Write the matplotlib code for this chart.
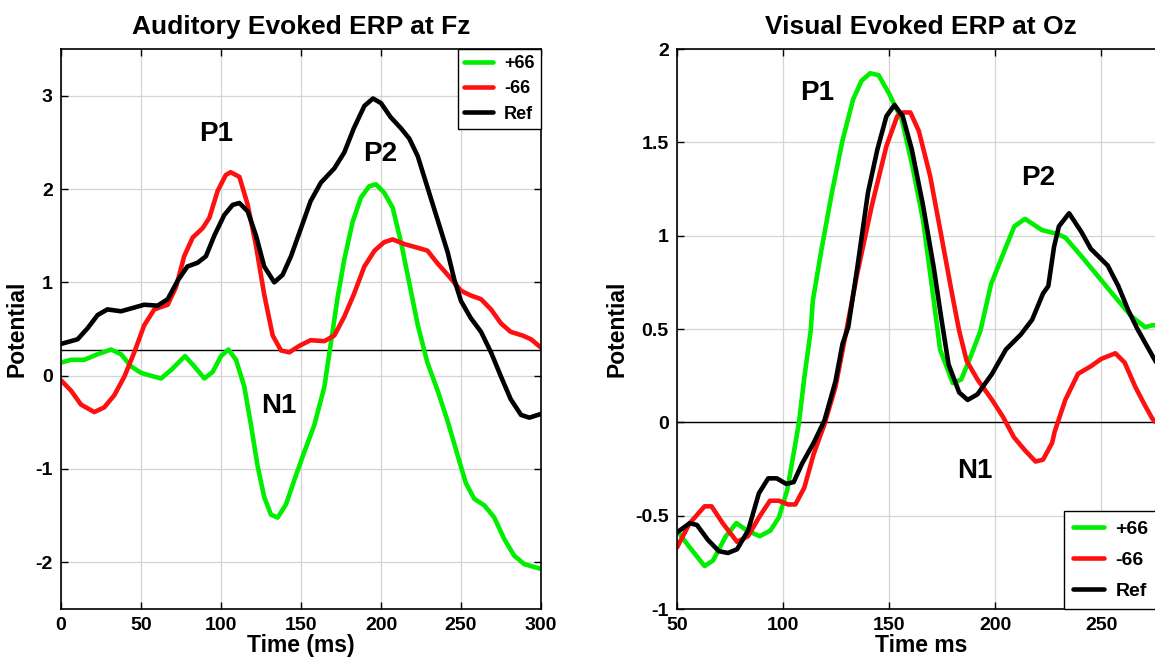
import matplotlib
matplotlib.use("Agg")
import matplotlib.pyplot as plt

plt.rcParams['font.family'] = ['Liberation Sans', 'DejaVu Sans']
plt.rcParams['font.weight'] = 'bold'
plt.rcParams['axes.unicode_minus'] = False

# ---------------- Auditory (left) ----------------
aud_ref_t = [0, 10.4, 16.7, 22.9, 29, 37.5, 45.8, 52, 60.4, 66.7, 73, 79, 85.4, 90.6, 95.8, 102,
             107.3, 111.5, 116.7, 121.9, 127, 133.3, 138.5, 143.75, 150, 156, 162.5, 170.8, 177,
             183, 189.6, 195, 200, 206, 212.5, 217.7, 223, 229, 235, 241.7, 245.8, 250, 256,
             262.5, 268.75, 275, 281, 287.5, 292.7, 300]
aud_ref_v = [0.34, 0.39, 0.51, 0.65, 0.71, 0.69, 0.73, 0.76, 0.75, 0.82, 1.02, 1.17, 1.21, 1.28,
             1.50, 1.72, 1.83, 1.85, 1.76, 1.50, 1.17, 1.00, 1.08, 1.28, 1.58, 1.87, 2.07, 2.22,
             2.39, 2.65, 2.89, 2.97, 2.92, 2.77, 2.65, 2.54, 2.35, 2.02, 1.69, 1.32, 1.03, 0.80,
             0.62, 0.47, 0.25, -0.01, -0.25, -0.42, -0.45, -0.41]

aud_neg_t = [0, 6.25, 12.5, 20.8, 27, 33.3, 39.6, 45.8, 52, 58.3, 66.7, 71.9, 77, 82.3, 88.5,
             92.7, 97.9, 103, 106, 111.5, 116.7, 121.9, 127, 132.3, 137.5, 142.7, 149, 156,
             164.6, 170.8, 177, 183, 189.6, 196, 202, 207.3, 214.6, 223, 229, 235, 242.7, 250,
             256, 262.5, 268.75, 275, 281, 288.5, 293.75, 300]
aud_neg_v = [-0.05, -0.16, -0.31, -0.39, -0.34, -0.21, -0.01, 0.25, 0.54, 0.71, 0.76, 0.95, 1.28,
             1.48, 1.58, 1.69, 1.98, 2.15, 2.18, 2.13, 1.83, 1.39, 0.87, 0.43, 0.27, 0.25, 0.32,
             0.38, 0.37, 0.43, 0.63, 0.87, 1.17, 1.34, 1.43, 1.46, 1.41, 1.37, 1.34, 1.21, 1.06,
             0.91, 0.86, 0.82, 0.71, 0.56, 0.47, 0.43, 0.39, 0.30]

aud_pos_t = [0, 6.25, 14.6, 22.9, 31.25, 37.5, 43.75, 50, 56, 62.5, 68.75, 77.5, 83.3, 89.6,
             94.8, 100, 104.6, 109.4, 114.6, 118.75, 122.9, 127, 131.25, 135.4, 140.6, 145.8,
             152, 158.3, 164.6, 168.75, 172.9, 177, 182.3, 187.5, 192.7, 196.9, 202, 207.3,
             212.5, 217.7, 223, 229, 235.4, 241.7, 248, 253, 258.3, 264.6, 270.8, 277, 283.3,
             289.6, 300]
aud_pos_v = [0.14, 0.17, 0.17, 0.23, 0.28, 0.23, 0.10, 0.03, 0.0, -0.03, 0.06, 0.21, 0.10, -0.03,
             0.04, 0.21, 0.28, 0.17, -0.12, -0.53, -0.97, -1.30, -1.49, -1.52, -1.38, -1.12,
             -0.82, -0.53, -0.12, 0.36, 0.84, 1.24, 1.65, 1.91, 2.03, 2.05, 1.96, 1.80, 1.43,
             0.99, 0.54, 0.14, -0.16, -0.49, -0.86, -1.15, -1.32, -1.39, -1.52, -1.75, -1.93,
             -2.02, -2.07]
aud_baseline = 0.27

# ---------------- Visual (right) ----------------
vis_pos_t = [50, 56, 63, 67, 73, 78, 83, 89, 94, 98, 102, 106, 107.5, 110, 113, 114, 118, 123,
             128, 133, 137, 141, 145, 150, 156, 161, 166, 170, 174, 180, 184, 189, 193, 198,
             204, 209, 214, 222, 229, 233, 240.6, 248.6, 256.6, 264, 270.6, 274, 280]
vis_pos_v = [-0.58, -0.67, -0.77, -0.74, -0.61, -0.54, -0.58, -0.61, -0.58, -0.51, -0.36, -0.10,
             0.0, 0.24, 0.49, 0.65, 0.92, 1.23, 1.51, 1.73, 1.83, 1.87, 1.86, 1.76, 1.62, 1.37,
             1.08, 0.74, 0.39, 0.21, 0.23, 0.37, 0.49, 0.74, 0.91, 1.05, 1.09, 1.03, 1.01, 0.99,
             0.89, 0.78, 0.67, 0.57, 0.51, 0.52, 0.52]

vis_neg_t = [50, 56, 63, 66.3, 71.5, 78.3, 83.5, 88.6, 93.8, 98, 102.4, 105.8, 110, 114.4, 119.5,
             124.7, 129.8, 135, 141.8, 148.7, 153.8, 156.4, 160, 164, 169.3, 174.4, 179.6, 183,
             186.5, 191.6, 198.5, 203.6, 208.8, 214, 219, 222.5, 226.8, 228, 233, 239, 245, 250,
             256.6, 261, 266, 270.6, 274, 280]
vis_neg_v = [-0.67, -0.54, -0.45, -0.45, -0.54, -0.64, -0.61, -0.51, -0.42, -0.42, -0.44, -0.44,
             -0.35, -0.17, -0.01, 0.19, 0.49, 0.80, 1.16, 1.48, 1.64, 1.66, 1.66, 1.56, 1.32,
             1.01, 0.69, 0.49, 0.33, 0.23, 0.12, 0.03, -0.08, -0.15, -0.21, -0.20, -0.11, -0.05,
             0.12, 0.26, 0.30, 0.34, 0.37, 0.32, 0.19, 0.09, 0.02, -0.05]

vis_ref_t = [50, 56, 59.4, 64.6, 69.7, 74, 78.3, 83.5, 88.6, 93, 97, 101.5, 105, 109, 114.4,
             119.5, 124.7, 128, 130.7, 135, 140, 144.4, 148.7, 152.5, 156.4, 160.7, 166, 171,
             174.4, 178, 183, 187, 191.6, 198.5, 205, 212, 217.4, 222.5, 225, 227.7, 230, 234.8,
             240.6, 245, 253, 258, 262.7, 267, 274.4, 280]
vis_ref_v = [-0.59, -0.54, -0.55, -0.63, -0.69, -0.70, -0.68, -0.58, -0.38, -0.30, -0.30, -0.33,
             -0.32, -0.22, -0.11, 0.01, 0.22, 0.42, 0.51, 0.83, 1.23, 1.46, 1.64, 1.70, 1.64,
             1.46, 1.16, 0.83, 0.57, 0.31, 0.16, 0.12, 0.15, 0.26, 0.39, 0.47, 0.55, 0.69, 0.73,
             0.94, 1.05, 1.12, 1.02, 0.93, 0.84, 0.73, 0.60, 0.50, 0.35, 0.24]
vis_baseline = 0.0

labels = ['+66', '-66', 'Ref']
colors = ['#00ee00', '#ff1010', '#000000']

W, H = 1155, 658
fig = plt.figure(figsize=(W / 100, H / 100), dpi=100)

def px_axes(x0, x1, y0, y1):
    return fig.add_axes([x0 / W, 1 - y1 / H, (x1 - x0) / W, (y1 - y0) / H])

axL = px_axes(61, 541, 49, 609)
axR = px_axes(677, 1165, 49, 609)

def style(ax):
    ax.grid(True, color='#d4d4d4', linewidth=0.9)
    ax.set_axisbelow(True)
    ax.tick_params(direction='in', top=True, right=True, length=5, width=1.0,
                   labelsize=14, pad=6)
    for lab in ax.get_xticklabels() + ax.get_yticklabels():
        lab.set_fontweight('bold')
    for s in ax.spines.values():
        s.set_linewidth(1.2)

lw = 3.3
kw = dict(lw=lw, solid_joinstyle='round', solid_capstyle='round')
# Left
axL.axhline(aud_baseline, color='black', linewidth=1.0, zorder=1.5)
axL.plot(aud_pos_t, aud_pos_v, color=colors[0], label=labels[0], **kw)
axL.plot(aud_neg_t, aud_neg_v, color=colors[1], label=labels[1], **kw)
axL.plot(aud_ref_t, aud_ref_v, color=colors[2], label=labels[2], **kw)
axL.set_xlim(0, 300)
axL.set_ylim(-2.5, 3.5)
axL.set_xticks([0, 50, 100, 150, 200, 250, 300])
axL.set_yticks([-2, -1, 0, 1, 2, 3])
style(axL)
axL.set_title('Auditory Evoked ERP at Fz', fontsize=19, fontweight='bold', pad=11)
axL.set_xlabel('Time (ms)', fontsize=16.5, fontweight='bold', labelpad=0)
axL.set_ylabel('Potential', fontsize=16.5, fontweight='bold', labelpad=5)
axL.text(97, 2.59, 'P1', fontsize=20, fontweight='bold', ha='center', va='center')
axL.text(199.4, 2.37, 'P2', fontsize=20, fontweight='bold', ha='center', va='center')
axL.text(136, -0.33, 'N1', fontsize=20, fontweight='bold', ha='center', va='center')
legL = axL.legend(loc='upper right', borderaxespad=0, fancybox=False, framealpha=1,
                  edgecolor='black', handlelength=1.6, handletextpad=0.6,
                  labelspacing=0.45, borderpad=0.35, prop={'weight': 'bold', 'size': 13})
legL.get_frame().set_linewidth(1.0)

# Right
axR.axhline(vis_baseline, color='black', linewidth=1.0, zorder=1.5)
axR.plot(vis_pos_t, vis_pos_v, color=colors[0], label=labels[0], **kw)
axR.plot(vis_neg_t, vis_neg_v, color=colors[1], label=labels[1], **kw)
axR.plot(vis_ref_t, vis_ref_v, color=colors[2], label=labels[2], **kw)
axR.set_xlim(50, 280)
axR.set_ylim(-1, 2)
axR.set_xticks([50, 100, 150, 200, 250])
axR.set_yticks([-1, -0.5, 0, 0.5, 1, 1.5, 2])
axR.set_yticklabels(['-1', '-0.5', '0', '0.5', '1', '1.5', '2'])
style(axR)
axR.set_title('Visual Evoked ERP at Oz', fontsize=19, fontweight='bold', pad=11)
axR.set_xlabel('Time ms', fontsize=16.5, fontweight='bold', labelpad=0)
axR.set_ylabel('Potential', fontsize=16.5, fontweight='bold', labelpad=5)
axR.text(116.2, 1.765, 'P1', fontsize=20, fontweight='bold', ha='center', va='center')
axR.text(220.4, 1.31, 'P2', fontsize=20, fontweight='bold', ha='center', va='center')
axR.text(190.4, -0.26, 'N1', fontsize=20, fontweight='bold', ha='center', va='center')
legR = axR.legend(loc='lower left', bbox_to_anchor=((1064 - 677) / 488, 0.0),
                  borderaxespad=0, fancybox=False, framealpha=1, edgecolor='black',
                  handlelength=1.6, handletextpad=0.6, labelspacing=0.7, borderpad=0.45,
                  prop={'weight': 'bold', 'size': 14})
legR.get_frame().set_linewidth(1.0)

fig.savefig('out.png', dpi=100)
